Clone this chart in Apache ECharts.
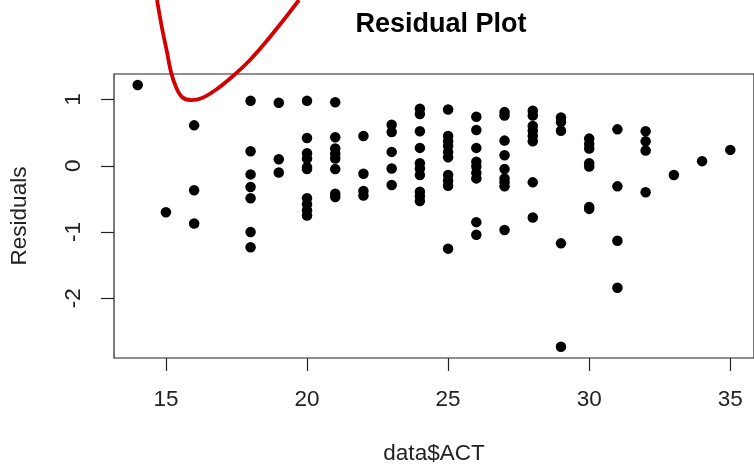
<!DOCTYPE html>
<html>
<head>
<meta charset="utf-8">
<script src="https://cdn.jsdelivr.net/npm/echarts@6/dist/echarts.min.js"></script>
<style>
html,body{margin:0;padding:0;background:#fff;}
#chart{width:754px;height:470px;}
</style>
</head>
<body>
<div id="chart"></div>
<script>
// ACT scores and the residuals observed at each score
const actScores = [14, 15, 16, 18, 19, 20, 21, 22, 23, 24, 25, 26, 27, 28, 29, 30, 31, 32, 33, 34, 35];
const residualsByAct = [
  [1.22],
  [-0.70],
  [0.61, -0.37, -0.87],
  [0.98, 0.22, -0.13, -0.32, -0.49, -1.00, -1.23],
  [0.95, 0.10, -0.10],
  [0.98, 0.42, 0.19, 0.11, -0.02, -0.05, -0.49, -0.58, -0.67, -0.75],
  [0.96, 0.43, 0.26, 0.18, 0.11, -0.05, -0.42, -0.47],
  [0.45, -0.12, -0.38, -0.45],
  [0.62, 0.51, 0.21, -0.04, -0.29],
  [0.86, 0.78, 0.52, 0.27, 0.04, -0.04, -0.14, -0.39, -0.46, -0.53],
  [0.85, 0.45, 0.37, 0.30, 0.21, 0.13, -0.14, -0.22, -0.30, -1.25],
  [0.74, 0.54, 0.27, 0.06, -0.01, -0.11, -0.19, -0.85, -1.04],
  [0.81, 0.76, 0.38, 0.16, -0.05, -0.19, -0.25, -0.31, -0.97],
  [0.83, 0.76, 0.60, 0.53, 0.45, 0.37, -0.25, -0.78],
  [0.73, 0.66, 0.53, -1.17, -2.73],
  [0.41, 0.33, 0.26, 0.04, -0.01, -0.62, -0.65],
  [0.55, -0.31, -1.13, -1.84],
  [0.52, 0.37, 0.23, -0.40],
  [-0.14],
  [0.07],
  [0.24]
];
const xTicks = [15, 20, 25, 30, 35];
const yTicks = [-2, -1, 0, 1];
const titleText = 'Residual Plot';
const xName = 'data$ACT';
const yName = 'Residuals';

const points = [];
actScores.forEach((a, i) => residualsByAct[i].forEach(r => points.push([a, r])));

const FONT = '"Liberation Sans", Arial, Helvetica, sans-serif';
const chart = echarts.init(document.getElementById('chart'), null, {renderer: 'canvas'});
chart.setOption({
  animation: false,
  backgroundColor: '#fff',
  title: {
    text: titleText,
    left: 436, top: 6, textAlign: 'center',
    textStyle: {fontFamily: FONT, fontWeight: 'bold', fontSize: 27, color: '#000'}
  },
  grid: {
    left: 112, top: 74, width: 649, height: 288,
    show: true, borderColor: '#222', borderWidth: 1.2, backgroundColor: 'transparent'
  },
  xAxis: {
    type: 'value', min: 13.16, max: 35.84,
    name: xName, nameLocation: 'middle', nameGap: 84,
    nameTextStyle: {fontFamily: FONT, fontSize: 22.5, color: '#222'},
    axisLine: {show: false, onZero: false},
    splitLine: {show: false},
    axisTick: {show: true, customValues: xTicks, length: 13, lineStyle: {color: '#222', width: 1.2}},
    axisLabel: {customValues: xTicks, fontFamily: FONT, fontSize: 22.5, color: '#222', margin: 30}
  },
  yAxis: {
    type: 'value', min: -2.9, max: 1.385,
    name: yName, nameLocation: 'middle', nameGap: 83, nameRotate: 90,
    nameTextStyle: {fontFamily: FONT, fontSize: 22.5, color: '#222'},
    axisLine: {show: false, onZero: false},
    splitLine: {show: false},
    axisTick: {show: true, customValues: yTicks, length: 13, lineStyle: {color: '#222', width: 1.2}},
    axisLabel: {customValues: yTicks, rotate: 90, fontFamily: FONT, fontSize: 22.5, color: '#222', margin: 29}
  },
  series: [{
    type: 'scatter',
    data: points,
    symbol: 'circle',
    symbolSize: 10.5,
    itemStyle: {color: '#000', opacity: 1},
    silent: true
  }],
  graphic: [{
    type: 'polyline',
    z: 100,
    shape: {
      points: [[157,0],[162,28],[167,52],[171,72],[176,87],[182,97],[190,100],[202,98],[217,89],[233,76],[249,61],[265,43],[282,22],[299,0]],
      smooth: 0.35
    },
    style: {stroke: '#d40000', lineWidth: 3.8, fill: null}
  }]
});
</script>
</body>
</html>
